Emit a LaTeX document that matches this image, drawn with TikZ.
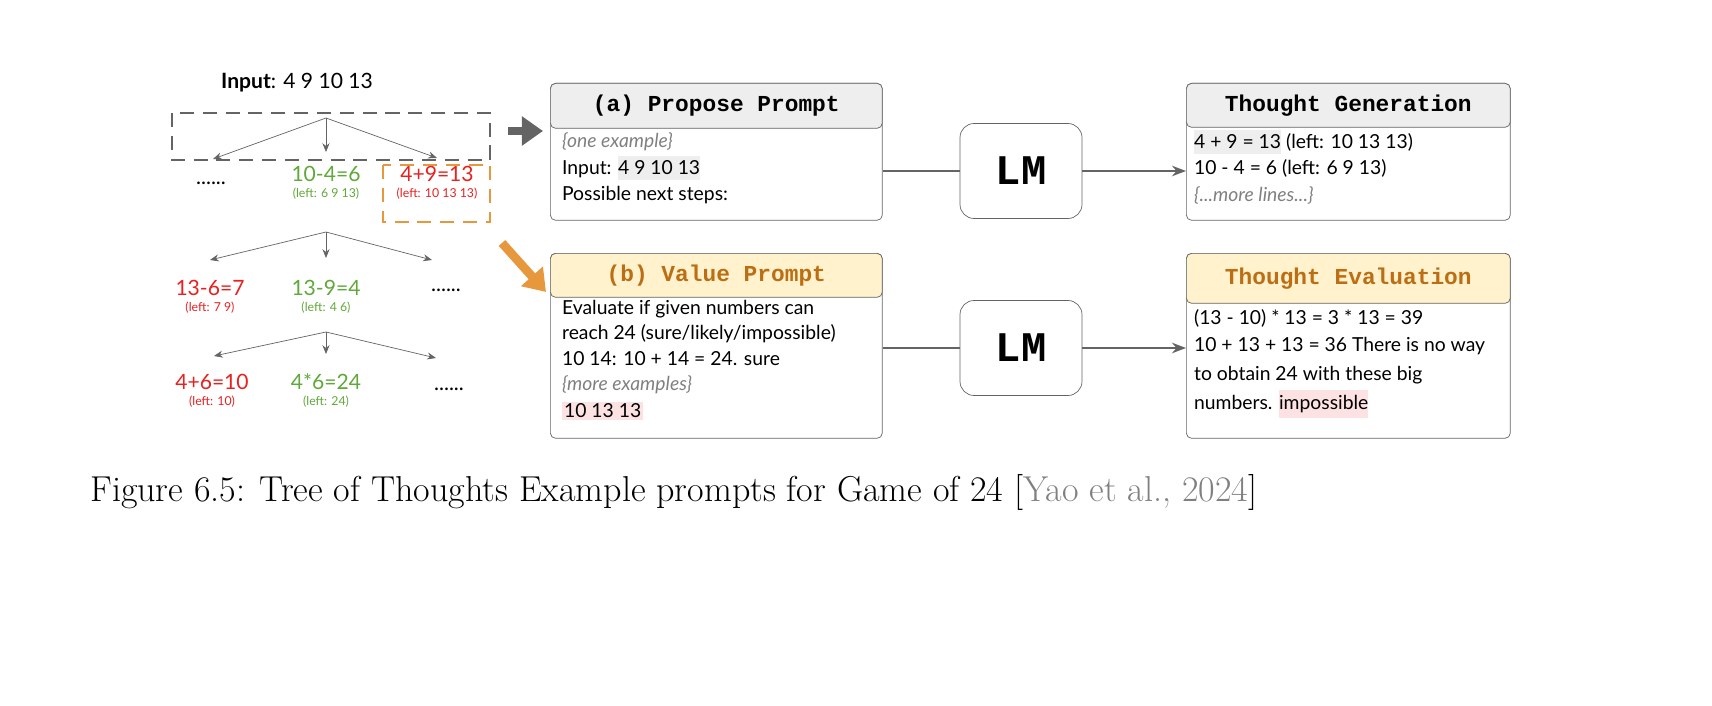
\documentclass[tikz,border=0pt]{standalone}
\usepackage{fontspec}
\setmainfont{Latin Modern Roman}
\newfontfamily\treefont{Lato}
\newfontfamily\codefont{Liberation Mono}
\usetikzlibrary{positioning,arrows.meta}
\definecolor{okgreen}{RGB}{96,168,58}
\definecolor{badred}{RGB}{232,32,32}
\definecolor{hiorange}{RGB}{232,152,60}
\definecolor{hdrgray}{RGB}{238,238,238}
\definecolor{hdryellow}{RGB}{255,242,204}
\definecolor{hdrbrown}{RGB}{188,110,20}
\definecolor{pinkhl}{RGB}{252,226,226}
\definecolor{linegray}{RGB}{100,100,100}
\tikzset{
  stepnode/.style={font=\treefont\fontsize{12}{12}\selectfont,inner sep=0pt},
  leftnote/.style={font=\treefont\fontsize{7}{7}\selectfont,inner sep=0pt},
  split/.style={draw=linegray,-{Stealth[length=5pt,width=4pt]}},
  promptbox/.style={draw=linegray,rounded corners=3pt,minimum width=6.64cm,inner sep=0pt},
  header/.style={promptbox,font=\codefont\bfseries\fontsize{13}{13}\selectfont},
  textline/.style={anchor=west,font=\treefont\fontsize{11}{12}\selectfont,inner sep=1pt},
  lmbox/.style={draw=linegray,rounded corners=8pt,minimum width=2.44cm,minimum height=1.9cm,font=\codefont\bfseries\fontsize{24}{24}\selectfont},
  link/.style={draw=linegray,line width=1pt,-{Stealth[length=8pt,width=6pt]}},
}
\begin{document}
\begin{tikzpicture}[x=0.02cm,y=-0.02cm]
% search tree
\node [stepnode] (input) at (297,83) {\textbf{Input}: 4 9 10 13};
\draw [draw=linegray,line width=1.3pt,dash pattern=on 8pt off 5pt] (172,113) rectangle (490,160);
\coordinate (r0) at (326,118);
\coordinate (l1) at (213,159); \coordinate (m1) at (326,152); \coordinate (n1) at (437,158);
\draw [split] (r0) -- (l1); \draw [split] (r0) -- (m1); \draw [split] (r0) -- (n1);
\node [stepnode] (d1) at (211,183) {......};
\node [stepnode,text=okgreen] (s1) at (326,174) {10-4=6};
\node [leftnote,text=okgreen] (s1l) at (326,194) {(left: 6 9 13)};
\node [stepnode,text=badred] (t1) at (437,174) {4+9=13};
\node [leftnote,text=badred] (t1l) at (437,194) {(left: 10 13 13)};
\draw [draw=hiorange,line width=1.3pt,dash pattern=on 8pt off 5pt] (383,165) rectangle (490,222);
\coordinate (r1) at (326,232);
\coordinate (l2) at (210,260); \coordinate (m2) at (326,258); \coordinate (n2) at (432,260);
\draw [split] (r1) -- (l2); \draw [split] (r1) -- (m2); \draw [split] (r1) -- (n2);
\node [stepnode,text=badred] (s2) at (210,288) {13-6=7};
\node [leftnote,text=badred] (s2l) at (210,308) {(left: 7 9)};
\node [stepnode,text=okgreen] (t2) at (326,288) {13-9=4};
\node [leftnote,text=okgreen] (t2l) at (326,308) {(left: 4 6)};
\node [stepnode] (d2) at (446,290) {......};
\coordinate (r2) at (326,332);
\coordinate (l3) at (214,356); \coordinate (m3) at (326,354); \coordinate (n3) at (436,358);
\draw [split] (r2) -- (l3); \draw [split] (r2) -- (m3); \draw [split] (r2) -- (n3);
\node [stepnode,text=badred] (s3) at (212,382) {4+6=10};
\node [leftnote,text=badred] (s3l) at (212,402) {(left: 10)};
\node [stepnode,text=okgreen] (t3) at (326,382) {4*6=24};
\node [leftnote,text=okgreen] (t3l) at (326,402) {(left: 24)};
\node [stepnode] (d3) at (449,389) {......};
% thick pointers
\coordinate (gpa) at (508,131); \coordinate (gpb) at (543,131);
\draw [draw=linegray,line width=5pt,-{Triangle[length=12pt,width=16pt]}] (gpa) -- (gpb);
\coordinate (opa) at (502,243); \coordinate (opb) at (546,292);
\draw [draw=hiorange,line width=5pt,-{Triangle[length=12pt,width=16pt]}] (opa) -- (opb);
% (a) propose prompt
\node [promptbox,minimum height=2.74cm,anchor=north west] (pa) at (550,83) {};
\node [header,fill=hdrgray,minimum height=0.9cm,anchor=north west] (pah) at (550,83) {(a) Propose Prompt};
\node [textline,text=gray] (pa1) at (560,142) {\itshape\{one example\}};
\node [textline] (pa2) at (560,168) {Input: \colorbox{hdrgray}{\kern-3pt4 9 10 13\kern-3pt}};
\node [textline] (pa3) at (560,195) {Possible next steps:};
\node [lmbox] (lma) at (1021,171) {LM};
\node [promptbox,minimum height=2.74cm,minimum width=6.48cm,anchor=north west] (ga) at (1186,83) {};
\node [header,fill=hdrgray,minimum height=0.88cm,anchor=north west,minimum width=6.48cm] (gah) at (1186,83) {Thought Generation};
\node [textline] (ga1) at (1192,142) {\colorbox{hdrgray}{\kern-3pt4 + 9 = 13\kern-3pt} (left: 10 13 13)};
\node [textline] (ga2) at (1192,168) {10 - 4 = 6 (left: 6 9 13)};
\node [textline,text=gray] (ga3) at (1192,195) {\itshape\{...more lines...\}};
\draw [draw=linegray,line width=1pt] (pa.east |- lma) -- (lma);
\draw [link] (lma) -- (lma -| ga.west);
% (b) value prompt
\node [promptbox,minimum height=3.7cm,anchor=north west] (pb) at (550,253) {};
\node [header,fill=hdryellow,text=hdrbrown,minimum height=0.88cm,anchor=north west] (pbh) at (550,253) {(b) Value Prompt};
\node [textline] (pb1) at (560,309) {Evaluate if given numbers can};
\node [textline] (pb2) at (560,334) {reach 24 (sure/likely/impossible)};
\node [textline] (pb3) at (560,359) {10 14: 10 + 14 = 24. sure};
\node [textline,text=gray] (pb4) at (560,385) {\itshape\{more examples\}};
\node [textline,fill=pinkhl] (pb5) at (562,411) {10 13 13};
\node [lmbox] (lmb) at (1021,348) {LM};
\node [promptbox,minimum height=3.7cm,minimum width=6.48cm,anchor=north west] (gb) at (1186,253) {};
\node [header,fill=hdryellow,text=hdrbrown,minimum height=1cm,minimum width=6.48cm,anchor=north west] (gbh) at (1186,253) {Thought Evaluation};
\node [textline] (gb1) at (1192,318) {(13 - 10) * 13 = 3 * 13 = 39};
\node [textline] (gb2) at (1192,346) {10 + 13 + 13 = 36 There is no way};
\node [textline] (gb3) at (1192,375) {to obtain 24 with these big};
\node [textline] (gb4) at (1192,404) {numbers. \colorbox{pinkhl}{\kern-3pt impossible\kern-3pt}};
\draw [draw=linegray,line width=1pt] (pb.east |- lmb) -- (lmb);
\draw [link] (lmb) -- (lmb -| gb.west);
% caption
\node [font=\fontsize{20.5}{24}\selectfont,anchor=west,inner sep=0pt] (cap) at (90,492) {Figure 6.5: Tree of Thoughts Example prompts for Game of 24 [\textcolor{gray}{Yao et al., 2024}]};
\pgfresetboundingbox
\path [use as bounding box] (0,0) rectangle (1712,706);
\end{tikzpicture}
\end{document}
